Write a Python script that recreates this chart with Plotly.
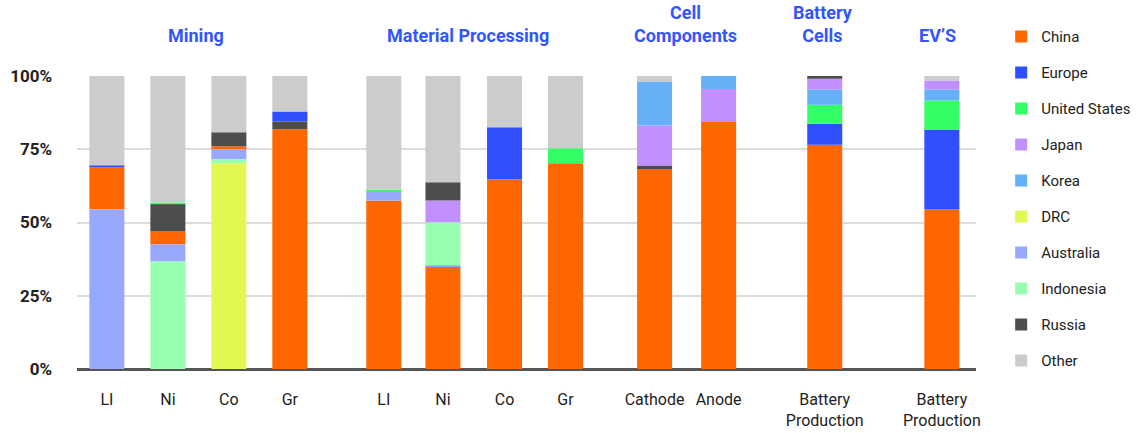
import plotly.graph_objects as go

# ---- data ----
categories = ["LI", "Ni", "Co", "Gr", "LI", "Ni", "Co", "Gr",
              "Cathode", "Anode", "Battery<br>Production", "Battery<br>Production"]
countries = ["China", "Europe", "United States", "Japan", "Korea",
             "DRC", "Australia", "Indonesia", "Russia", "Other"]

china = [14.3, 4.4, 1.1, 81.8, 57.5, 35.1, 64.7, 70.2, 68.3, 84.3, 76.5, 54.4]
europe = [0.7, 0, 0, 3.4, 0, 0, 17.8, 0, 0, 0, 7.2, 27.3]
united_states = [0, 0.6, 0, 0, 0.9, 0, 0, 5.1, 0, 0, 6.5, 9.9]
japan = [0, 0, 0, 0, 0, 7.5, 0, 0, 13.7, 11.3, 3.7, 3.1]
korea = [0, 0, 0, 0, 0, 0, 0, 0, 15.0, 4.4, 5.2, 3.8]
drc = [0, 0, 70.2, 0, 0, 0, 0, 0, 0, 0, 0, 0]
australia = [54.5, 5.8, 3.4, 0, 2.9, 0.3, 0, 0, 0, 0, 0, 0]
indonesia = [0, 36.7, 1.3, 0, 0, 14.6, 0, 0, 0, 0, 0, 0]
russia = [0, 9.3, 4.8, 2.7, 0, 6.2, 0, 0, 1.1, 0, 0.9, 0]
other = [30.5, 43.2, 19.2, 12.1, 38.7, 36.3, 17.5, 24.7, 1.9, 0, 0, 1.5]

values = {
    "China": china, "Europe": europe, "United States": united_states,
    "Japan": japan, "Korea": korea, "DRC": drc, "Australia": australia,
    "Indonesia": indonesia, "Russia": russia, "Other": other,
}

# stacking order (bottom -> top) for each bar
stack_order = [
    ["Australia", "China", "Europe", "Other"],
    ["Indonesia", "Australia", "China", "Russia", "United States", "Other"],
    ["DRC", "Indonesia", "Australia", "China", "Russia", "Other"],
    ["China", "Russia", "Europe", "Other"],
    ["China", "Australia", "United States", "Other"],
    ["China", "Australia", "Indonesia", "Japan", "Russia", "Other"],
    ["China", "Europe", "Other"],
    ["China", "United States", "Other"],
    ["China", "Russia", "Japan", "Korea", "Other"],
    ["China", "Japan", "Korea"],
    ["China", "Europe", "United States", "Korea", "Japan", "Russia"],
    ["China", "Europe", "United States", "Korea", "Japan", "Other"],
]

group_titles = ["Mining", "Material Processing", "Cell<br>Components", "Battery<br>Cells", "EV\u2019S"]

# ---- layout / style ----
x_pos = [0, 1, 2, 3, 4.54, 5.51, 6.52, 7.52, 8.98, 10.03, 11.77, 13.69]
title_pos = [1.46, 5.92, 9.49, 11.74, 13.62]
colors = {
    "China": "#ff6600", "Europe": "#2f4fff", "United States": "#33ff66",
    "Japan": "#c28fff", "Korea": "#66b0f8", "DRC": "#e3f752",
    "Australia": "#98a8ff", "Indonesia": "#99ffb0", "Russia": "#4d4d4d",
    "Other": "#cccccc",
}
FONT = "Roboto, Arial, sans-serif"

# compute bases
bases = {c: [0.0] * len(categories) for c in countries}
for i, order in enumerate(stack_order):
    cum = 0.0
    for c in order:
        bases[c][i] = cum
        cum += values[c][i]

fig = go.Figure()
for c in countries:
    ys = [v / 100 for v in values[c]]
    bs = [b / 100 for b in bases[c]]
    fig.add_trace(go.Bar(
        x=x_pos, y=ys, base=bs, name=c, width=0.574,
        marker=dict(color=colors[c], line=dict(width=0)),
        legendgroup=c,
    ))

fig.update_layout(
    barmode="overlay",
    width=1138, height=433,
    margin=dict(l=77, r=162, t=76, b=64, autoexpand=False),
    plot_bgcolor="white", paper_bgcolor="white",
    font=dict(family=FONT, size=15, color="#222222"),
    legend=dict(x=1.028, y=1.19, xanchor="left", yanchor="top",
                tracegroupgap=13.5, font=dict(size=15, color="#222222"),
                maxheight=430, itemsizing="constant"),
    xaxis=dict(range=[-0.49, 14.25], tickvals=x_pos, ticktext=categories,
               showgrid=False, zeroline=False, showline=False, ticks="",
               ticklabelstandoff=19, tickfont=dict(size=16, color="#222222")),
    yaxis=dict(range=[0, 1], tickvals=[0, 0.25, 0.5, 0.75, 1.0],
               ticktext=["<b>0%</b>", "<b>25%</b>", "<b>50%</b>", "<b>75%</b>", "<b>100%</b>"],
               showgrid=True, gridcolor="#dcdcdc", gridwidth=2,
               zeroline=True, zerolinecolor="#555555", zerolinewidth=3,
               ticks="", ticklabelstandoff=24,
               tickfont=dict(size=17, color="#222222")),
)

for t, xp in zip(group_titles, title_pos):
    fig.add_annotation(x=xp, y=1.096, xref="x", yref="paper", text="<b>" + t + "</b>",
                       showarrow=False, xanchor="center", yanchor="bottom",
                       font=dict(size=18, color="#3355ff", family=FONT))

fig.write_html("out.html", config={"displayModeBar": False},
               post_script="document.body.style.margin='0';")
